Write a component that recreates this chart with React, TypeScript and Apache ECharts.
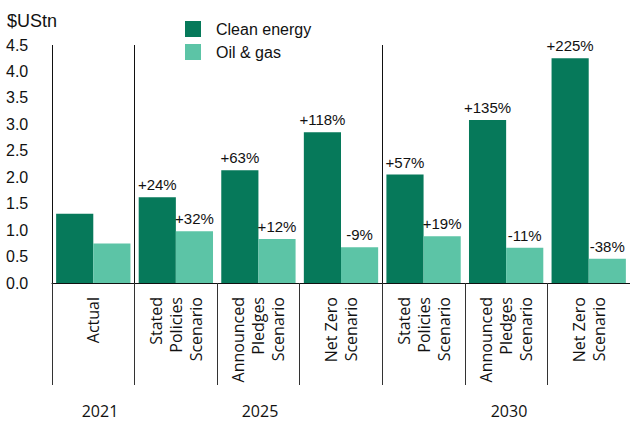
import React, { useEffect, useRef } from "react";
import * as echarts from "echarts";

const categories = [
  "Actual",
  "Stated\nPolicies\nScenario",
  "Announced\nPledges\nScenario",
  "Net Zero\nScenario",
  "Stated\nPolicies\nScenario",
  "Announced\nPledges\nScenario",
  "Net Zero\nScenario",
];
const cleanEnergy = [1.31, 1.62, 2.13, 2.85, 2.05, 3.08, 4.25];
const oilGas = [0.745, 0.98, 0.83, 0.675, 0.885, 0.665, 0.46];
const cleanLabels = ["", "+24%", "+63%", "+118%", "+57%", "+135%", "+225%"];
const oilLabels = ["", "+32%", "+12%", "-9%", "+19%", "-11%", "-38%"];
const years = ["2021", "2025", "2030"];
const yearX = [100, 260, 509];

const DARK = "#06795A";
const LIGHT = "#5CC4A6";
const TXT = "#111";
const FONT = "Liberation Sans, Arial, sans-serif";

export default function App() {
  const ref = useRef<HTMLDivElement>(null);
  useEffect(() => {
    if (!ref.current) return;
    const chart = echarts.init(ref.current, null, { renderer: "svg" });
    chart.setOption({
      animation: false,
      textStyle: { fontFamily: FONT },
      grid: { left: 52, right: -4, top: 45, bottom: 138, containLabel: false },
      legend: {
        orient: "vertical",
        left: 180,
        top: 16,
        itemWidth: 16,
        itemHeight: 16,
        itemGap: 7,
        icon: "rect",
        textStyle: { fontSize: 16, color: TXT, fontFamily: FONT, padding: [0, 0, 0, 10] },
        data: ["Clean energy", "Oil & gas"],
      },
      xAxis: {
        type: "category",
        data: categories,
        axisLine: { show: true, lineStyle: { color: "#111", width: 1 } },
        axisTick: { show: true, length: 102, interval: 0, lineStyle: { color: "#333", width: 1 } },
        splitLine: {
          show: true,
          interval: (i: number) => i === 0 || i === 1 || i === 4,
          lineStyle: { color: "#111", width: 1 },
        },
        axisLabel: {
          interval: 0,
          rotate: 90,
          margin: 14,
          fontSize: 16,
          lineHeight: 20,
          color: TXT,
          fontFamily: "Open Sans, sans-serif",
        },
      },
      yAxis: {
        type: "value",
        min: 0,
        max: 4.5,
        interval: 0.5,
        axisLine: { show: false },
        axisTick: { show: false },
        splitLine: { show: false },
        axisLabel: {
          margin: 46,
          align: "left",
          fontSize: 16,
          color: TXT,
          fontFamily: FONT,
          formatter: (v: number) => v.toFixed(1),
        },
      },
      series: [
        {
          name: "Clean energy",
          type: "bar",
          data: cleanEnergy,
          barGap: "0%",
          barCategoryGap: "10%",
          itemStyle: { color: DARK },
          label: {
            show: true,
            position: "top",
            distance: 5,
            fontSize: 15,
            color: TXT,
            fontFamily: FONT,
            formatter: (p: any) => cleanLabels[p.dataIndex],
          },
        },
        {
          name: "Oil & gas",
          type: "bar",
          data: oilGas,
          barGap: "0%",
          barCategoryGap: "10%",
          itemStyle: { color: LIGHT },
          label: {
            show: true,
            position: "top",
            distance: 5,
            fontSize: 15,
            color: TXT,
            fontFamily: FONT,
            formatter: (p: any) => oilLabels[p.dataIndex],
          },
        },
      ],
      graphic: [
        {
          type: "text",
          left: 7,
          top: 12,
          style: { text: "$UStn", fontSize: 18, fill: TXT, fontFamily: FONT },
        },
        ...years.map((y, i) => ({
          type: "text",
          x: yearX[i],
          y: 411,
          style: {
            text: y,
            fontSize: 16,
            fill: TXT,
            fontFamily: "Open Sans, sans-serif",
            textAlign: "center",
            textVerticalAlign: "middle",
          },
        })),
      ],
    });
    return () => chart.dispose();
  }, []);
  return (
    <div
      ref={ref}
      style={{ position: "absolute", left: 0, top: 0, width: 630, height: 421, background: "#fff" }}
    />
  );
}
